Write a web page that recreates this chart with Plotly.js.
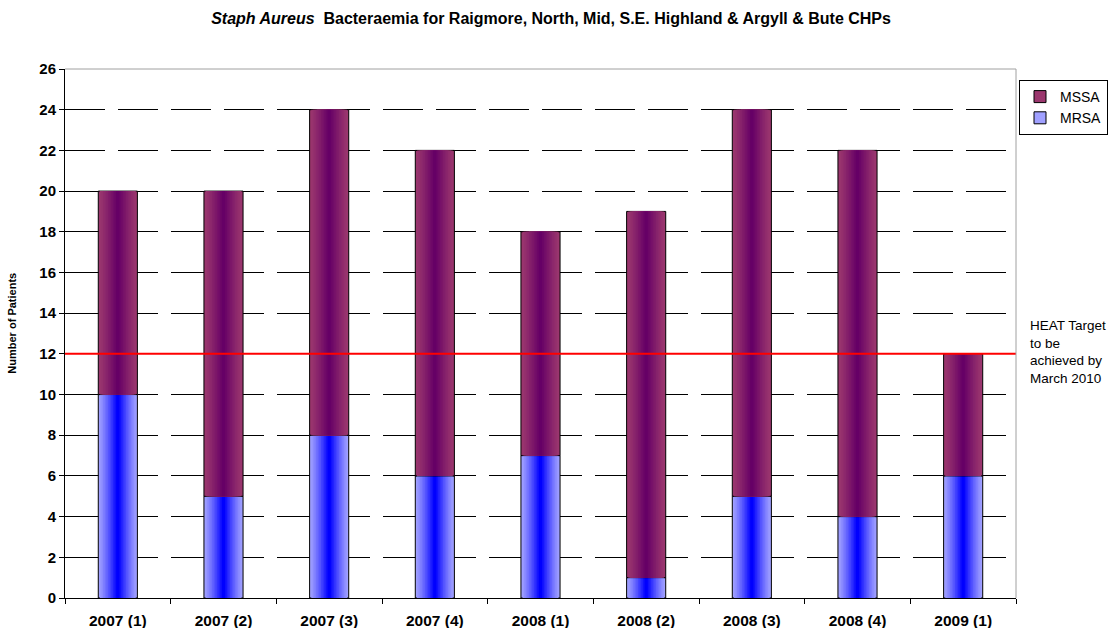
<!DOCTYPE html>
<html>
<head>
<meta charset="utf-8">
<script src="https://cdn.plot.ly/plotly-3.0.1.min.js"></script>
<style>html,body{margin:0;padding:0;background:#fff;}#chart{width:1120px;height:628px;}</style>
</head>
<body>
<div id="chart"></div>
<script>
const categories = ["2007 (1)","2007 (2)","2007 (3)","2007 (4)","2008 (1)","2008 (2)","2008 (3)","2008 (4)","2009 (1)"];
const mrsa = [10,5,8,6,7,1,5,4,6];
const mssa = [10,15,16,16,11,18,19,18,6];
const heatTarget = 12;
const yTicks = [0,2,4,6,8,10,12,14,16,18,20,22,24,26];

function lerp(a,b,t){return Math.round(a+(b-a)*t);}
function mix(c1,c2,t){return 'rgb('+lerp(c1[0],c2[0],t)+','+lerp(c1[1],c2[1],t)+','+lerp(c1[2],c2[2],t)+')';}

const layers = 12;
const fullW = 0.37;
const traces = [];
function addSeries(name, vals, base, edge, center){
  for(let i=0;i<layers;i++){
    const t = i/(layers-1);
    const w = fullW*(1 - i/layers);
    traces.push({
      type:'bar', x:categories, y:vals, base:base, width:w, offset:-w/2,
      name:name, legendgroup:name, showlegend:i===0,
      marker:{color: mix(edge,center,Math.pow(t,1.2)), line:{color: i===0?'#000':'rgba(0,0,0,0)', width: i===0?1:0}},
      hoverinfo:'skip'
    });
  }
}
addSeries('MRSA', mrsa, mrsa.map(()=>0), [160,160,255],[0,0,255]);
addSeries('MSSA', mssa, mrsa, [155,55,110],[102,0,102]);

const layout = {
  width:1120, height:628,
  margin:{l:65, r:104, t:69, b:30, autoexpand:false},
  paper_bgcolor:'#fff', plot_bgcolor:'#fff',
  barmode:'overlay',
  font:{family:'Liberation Sans, Arial, sans-serif', color:'#000'},
  title:{text:'<b><i>Staph Aureus</i>  Bacteraemia for Raigmore, North, Mid, S.E. Highland &amp; Argyll &amp; Bute CHPs</b>',
         font:{size:16, color:'#000'}, x:0.492, xanchor:'center', y:0.971, yanchor:'middle'},
  xaxis:{type:'category', categoryorder:'array', categoryarray:categories,
         tickson:'boundaries', ticks:'outside', ticklen:5, tickcolor:'#000',
         showline:true, linecolor:'#000', linewidth:1, showgrid:false,
         ticklabelstandoff:8,
         tickfont:{size:15.5, color:'#000'},
         tickprefix:'<b>', ticksuffix:'</b>', range:[-0.5,8.5], fixedrange:true},
  yaxis:{range:[0,26], tickvals:yTicks, ticktext:yTicks.map(v=>'<b>'+v+'</b>'),
         ticks:'outside', ticklen:5, tickcolor:'#000',
         showline:true, linecolor:'#000', linewidth:1,
         showgrid:true, gridcolor:'#000', gridwidth:1, griddash:'40px,13px',
         zeroline:false,
         tickfont:{size:15, color:'#000'}},
  legend:{xref:'container', yref:'container', x:1019/1120, xanchor:'left', y:1-80/628, yanchor:'top', traceorder:'reversed',
          bordercolor:'#000', borderwidth:1, bgcolor:'#fff', font:{size:14, color:'#000'},
          itemwidth:30, tracegroupgap:0},
  shapes:[
    {type:'line', xref:'paper', yref:'y', x0:0, x1:1, y0:heatTarget, y1:heatTarget, line:{color:'#ff0000', width:2}},
    {type:'line', xref:'paper', yref:'paper', x0:0, x1:1, y0:1, y1:1, line:{color:'#a0a0a0', width:1}},
    {type:'line', xref:'paper', yref:'paper', x0:1, x1:1, y0:0, y1:1, line:{color:'#a0a0a0', width:1}}
  ],
  annotations:[
    {xref:'paper', yref:'y', x:1.013, y:heatTarget+1.85, xanchor:'left', yanchor:'top', align:'left', showarrow:false,
     text:'HEAT Target<br>to be<br>achieved by<br>March 2010', font:{size:13.5, color:'#000'}},
    {xref:'paper', yref:'paper', x:-0.056, y:0.52, xanchor:'center', yanchor:'middle', textangle:-90, showarrow:false,
     text:'<b>Number of Patients</b>', font:{size:11, color:'#000'}}
  ]
};
Plotly.newPlot('chart', traces, layout, {displayModeBar:false, staticPlot:true});
</script>
</body>
</html>
